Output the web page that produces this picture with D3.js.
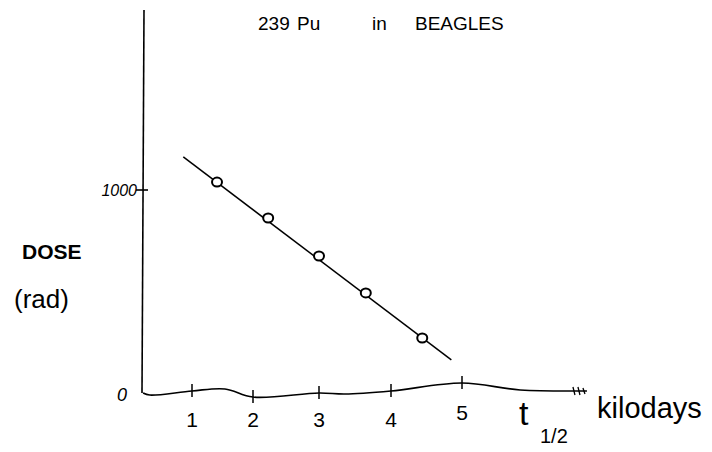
<!DOCTYPE html>
<html><head><meta charset="utf-8">
<script src="https://cdn.jsdelivr.net/npm/d3@7"></script>
<style>body{margin:0;background:#fff}</style>
</head><body>
<svg id="c" width="712" height="452"></svg>
<script>
// ---- data ----
const title = ["239", "Pu", "in", "BEAGLES"];
const halfLife = [1.41, 2.23, 3.0, 3.65, 4.44];     // t1/2 (kilodays)
const dose = [1039, 862, 675, 493, 271];           // dose (rad)
const fitX = [0.87, 4.85];
const fitY = [1163, 163];
const xTicks = [1, 2, 3, 4, 5];
const yTicks = [0, 1000];
const yTickLabels = ["0", "1000"];
// hand-drawn x axis baseline (t1/2, rad offset)
const axisWobbleX = [0.27, 0.37, 1, 1.54, 2, 3, 3.36, 4, 5, 5.82, 6.76];
const axisWobbleY = [0, -10, 10, 20, -20, 0, -5, 10, 49, 15, 10];

const svg = d3.select("#c");
const font = "'Liberation Sans', 'DejaVu Sans', sans-serif";
// hand-drawn (uneven) tick spacing as a polylinear scale
const x = d3.scaleLinear().domain([0,1,2,3,4,5,6]).range([125,192,253,319,391,462,533]);
const y = d3.scaleLinear().domain([0,1000]).range([393,190]);

// y axis
svg.append("line").attr("x1",144).attr("y1",10).attr("x2",142).attr("y2",y(0))
  .attr("stroke","#000").attr("stroke-width",1.6);
// 1000 tick
svg.append("line").attr("x1",136).attr("x2",148).attr("y1",y(1000)).attr("y2",y(1000))
  .attr("stroke","#000").attr("stroke-width",1.6);
svg.append("text").attr("x",137).attr("y",y(1000)+6).attr("text-anchor","end")
  .attr("font-family",font).attr("font-size",16).attr("font-style","italic").text(yTickLabels[1]);
svg.append("text").attr("x",122).attr("y",y(0)+8).attr("text-anchor","middle")
  .attr("font-family",font).attr("font-size",18).attr("font-style","italic").text(yTickLabels[0]);

// wavy x axis
const axisPts = axisWobbleX.map((d,i)=>[x(d), y(axisWobbleY[i])]);
svg.append("path").attr("d", d3.line().curve(d3.curveCatmullRom)(axisPts))
  .attr("fill","none").attr("stroke","#000").attr("stroke-width",1.6);
// arrow scribble at end
const endX = x(6.76), endY = y(10);
svg.append("path").attr("d", `M${endX-14},${endY-4}L${endX-12},${endY+4}M${endX-9},${endY-4}L${endX-7},${endY+4}M${endX-4},${endY-3}L${endX-2},${endY+3}`)
  .attr("stroke","#000").attr("stroke-width",1.3);

// x ticks following the wave
const wob = d3.scaleLinear().domain(axisWobbleX).range(axisWobbleY);
svg.selectAll(".xt").data(xTicks).join("line")
  .attr("x1",d=>x(d)).attr("x2",d=>x(d))
  .attr("y1",d=>y(wob(d))-7).attr("y2",d=>y(wob(d))+6)
  .attr("stroke","#000").attr("stroke-width",1.5);
svg.selectAll(".xl").data(xTicks).join("text")
  .attr("x",d=>x(d)).attr("y",d=>d===5?420:427).attr("text-anchor","middle")
  .attr("font-family",font).attr("font-size",21).text(d=>d);

// fit line
svg.append("line").attr("x1",x(fitX[0])).attr("y1",y(fitY[0]))
  .attr("x2",x(fitX[1])).attr("y2",y(fitY[1]))
  .attr("stroke","#000").attr("stroke-width",1.5);
// points
svg.selectAll(".pt").data(dose).join("ellipse")
  .attr("cx",(d,i)=>x(halfLife[i])).attr("cy",d=>y(d))
  .attr("rx",5).attr("ry",4.5).attr("fill","#fff").attr("stroke","#000").attr("stroke-width",2);

// title
const tx = [258, 297, 372, 415];
const tt = svg.append("text").attr("font-family",font).attr("font-size",19);
title.forEach((t,i)=>tt.append("tspan").attr("x",tx[i]).attr("y",30).text(t));

// y label
svg.append("text").attr("x",22).attr("y",259).attr("font-family",font).attr("font-size",21)
  .attr("font-weight","bold").text("DOSE");
svg.append("text").attr("x",14).attr("y",308).attr("font-family",font).attr("font-size",26)
  .text("(rad)");

// x label
svg.append("text").attr("x",519).attr("y",425).attr("font-family",font).attr("font-size",34).text("t");
svg.append("text").attr("x",540).attr("y",443).attr("font-family",font).attr("font-size",20).text("1/2");
svg.append("text").attr("x",597).attr("y",418).attr("font-family",font).attr("font-size",29).text("kilodays");
</script>
</body></html>
